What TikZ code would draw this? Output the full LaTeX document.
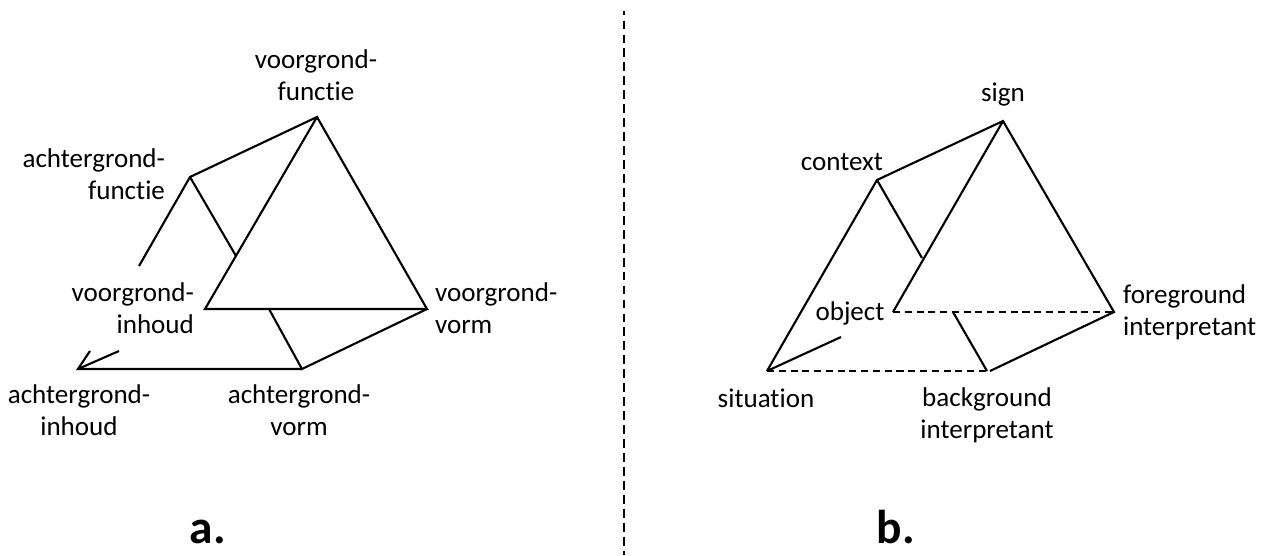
\documentclass[tikz,border=0pt]{standalone}
\usepackage{fontspec}
\setmainfont[Ligatures=NoCommon]{Carlito}
\tikzset{
 lbl/.style={inner sep=0pt,font=\fontsize{15.4}{18.1}\selectfont},
 lblr/.style={lbl,align=right},
 lblc/.style={lbl,align=center},
 lbll/.style={lbl,align=left},
 panel/.style={inner sep=0pt,anchor=base,font=\fontsize{27}{30}\selectfont\bfseries},
 dashline/.style={dash pattern=on 4pt off 2.7pt}
}
\begin{document}
\begin{tikzpicture}[x=0.02cm,y=-0.02cm,line width=1.2pt]
 \useasboundingbox (0,0) rectangle (1272,555);
 % left prism
 \coordinate (vf) at (317,117);
 \coordinate (af) at (190,177);
 \coordinate (afend) at (139,266);
 \coordinate (vfm) at (236,256);
 \coordinate (vi) at (205,309);
 \coordinate (vv) at (427,309);
 \coordinate (avm) at (269,309);
 \coordinate (av) at (302,369);
 \coordinate (ai) at (78,369);
 \coordinate (aiup) at (90,351);
 \coordinate (aivi) at (119,351);
 \draw (afend)--(af)--(vf)--(vv)--(vi)--(vf);
 \draw (af)--(vfm);
 \draw (avm)--(av)--(vv);
 \draw (av)--(ai)--(aiup);
 \draw (ai)--(aivi);
 % right prism
 \coordinate (sign) at (1003,121);
 \coordinate (ctx) at (877,180);
 \coordinate (ctxm) at (922,258);
 \coordinate (obj) at (893,312);
 \coordinate (fi) at (1114,312);
 \coordinate (fim) at (953,312);
 \coordinate (bi) at (987,371);
 \coordinate (biend) at (990,371);
 \coordinate (sit) at (767,371);
 \coordinate (sitobj) at (841,337);
 \draw (sit)--(ctx)--(sign)--(fi)--(biend);
 \draw (sign)--(obj);
 \draw (ctx)--(ctxm);
 \draw (fim)--(bi);
 \draw (sit)--(sitobj);
 \draw[dashline] (obj)--(fi);
 \draw[dashline] (sit)--(bi);
 % divider
 \coordinate (divtop) at (624,11);
 \coordinate (divbot) at (624,555);
 \draw[line width=1.1pt,dash pattern=on 5pt off 2.94pt,dash phase=2.5pt] (divtop)--(divbot);
 % labels
 \node[lblc,anchor=base] (lvf) at (316,100) {voorgrond-\\functie};
 \node[lblr,anchor=base east] (laf) at (166,199) {achtergrond-\\functie};
 \node[lblr,anchor=base east] (lvi) at (195,333) {voorgrond-\\inhoud};
 \node[lbll,anchor=base west] (lvv) at (434,333) {voorgrond-\\vorm};
 \node[lblc,anchor=base] (lai) at (79,435) {achtergrond-\\inhoud};
 \node[lblc,anchor=base] (lav) at (299,435) {achtergrond-\\vorm};
 \node[lbl,anchor=base] (lsign) at (1003,101) {sign};
 \node[lbl,anchor=base] (lctx) at (842,170) {context};
 \node[lbl,anchor=base] (lobj) at (850,320) {object};
 \node[lbll,anchor=base west] (lfi) at (1122,335) {foreground\\interpretant};
 \node[lbl,anchor=base] (lsit) at (766,407) {situation};
 \node[lblc,anchor=base] (lbi) at (987,438) {background\\interpretant};
 \node[panel] (pa) at (208,543) {a.};
 \node[panel] (pb) at (896,543) {b.};
\end{tikzpicture}
\end{document}
